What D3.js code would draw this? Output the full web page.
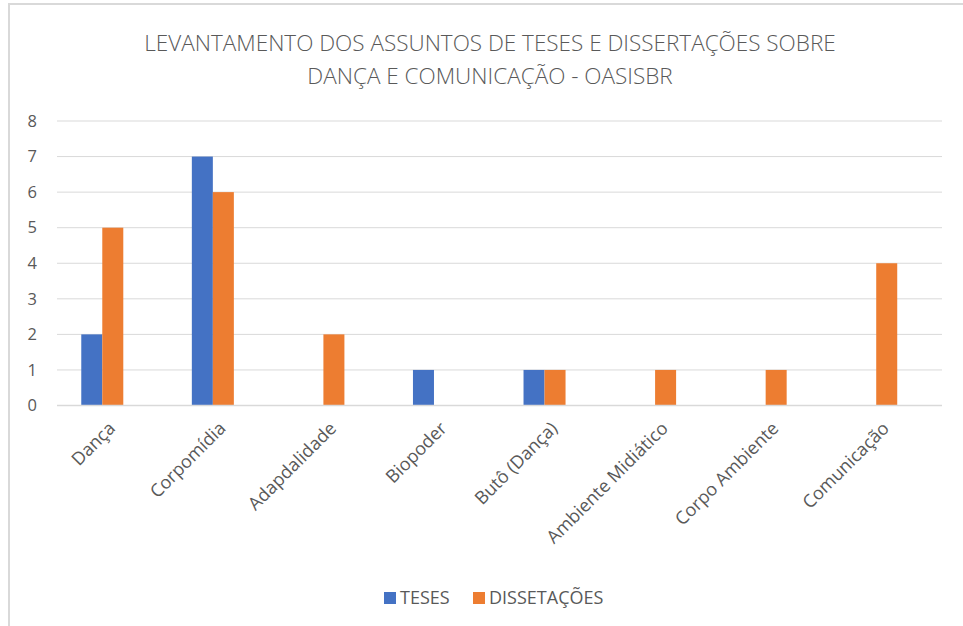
<!DOCTYPE html>
<html>
<head>
<meta charset="utf-8">
<script src="https://cdn.jsdelivr.net/npm/d3@7"></script>
<style>
  body { margin: 0; background: #fff; }
  text { font-family: "Open Sans", sans-serif; fill: #595959; }
</style>
</head>
<body>
<svg id="chart" width="963" height="626"></svg>
<script>
const categories = ['Dança', 'Corpomídia', 'Adapdalidade', 'Biopoder', 'Butô (Dança)', 'Ambiente Midiático', 'Corpo Ambiente', 'Comunicação'];
const teses = [2, 7, 0, 1, 1, 0, 0, 0];
const dissertacoes = [5, 6, 2, 0, 1, 1, 1, 4];
const seriesNames = ['TESES', 'DISSETAÇÕES'];
const yTicks = [0, 1, 2, 3, 4, 5, 6, 7, 8];
const titleLines = ['LEVANTAMENTO DOS ASSUNTOS DE TESES E DISSERTAÇÕES SOBRE', 'DANÇA E COMUNICAÇÃO - OASISBR'];

const colors = ['#4472c4', '#ed7d31'];
const svg = d3.select('#chart');

// frame (only top and left edges are visible in the crop)
svg.append('line').attr('x1', 8).attr('x2', 963).attr('y1', 4).attr('y2', 4)
  .attr('stroke', '#d9d9d9').attr('stroke-width', 2);
svg.append('line').attr('x1', 9).attr('x2', 9).attr('y1', 4).attr('y2', 626)
  .attr('stroke', '#d9d9d9').attr('stroke-width', 2);

const y = d3.scaleLinear().domain([0, 8]).range([405.5, 121]);
const x0 = d3.scaleBand().domain(categories).range([47, 931.5])
  .paddingInner(0.62).paddingOuter(0.31);
const x1 = d3.scaleBand().domain(seriesNames).range([0, x0.bandwidth()]);

// gridlines
svg.append('g')
  .selectAll('line')
  .data(yTicks)
  .enter()
  .append('line')
  .attr('x1', 57).attr('x2', 942)
  .attr('y1', d => y(d)).attr('y2', d => y(d))
  .attr('stroke', '#d9d9d9').attr('stroke-width', 1);

svg.append('g')
  .selectAll('text')
  .data(yTicks)
  .enter()
  .append('text')
  .attr('x', 37).attr('y', d => y(d))
  .attr('dy', '0.35em')
  .attr('text-anchor', 'end')
  .style('font-size', '16.5px')
  .text(d => d);

const rows = categories.map((c, i) => ({cat: c, values: [teses[i], dissertacoes[i]]}));

const groups = svg.append('g')
  .selectAll('g')
  .data(rows)
  .enter()
  .append('g')
  .attr('transform', d => `translate(${x0(d.cat)},0)`);

groups.selectAll('rect')
  .data(d => d.values.map((v, j) => ({key: seriesNames[j], v: v, j: j})))
  .enter()
  .filter(d => d.v > 0)
  .append('rect')
  .attr('x', d => x1(d.key))
  .attr('width', x1.bandwidth())
  .attr('y', d => y(d.v))
  .attr('height', d => y(0) - y(d.v))
  .attr('fill', d => colors[d.j]);

// axis line
svg.append('line').attr('x1', 57).attr('x2', 942)
  .attr('y1', y(0)).attr('y2', y(0))
  .attr('stroke', '#d9d9d9').attr('stroke-width', 1.5);

// category labels
svg.append('g')
  .selectAll('text')
  .data(categories)
  .enter()
  .append('text')
  .attr('text-anchor', 'end')
  .attr('transform', d => `translate(${x0(d) + x0.bandwidth() / 2 + 14},${y(0) + 24}) rotate(-45)`)
  .style('font-size', '18px')
  .text(d => d);

// title
svg.append('g')
  .selectAll('text')
  .data(titleLines)
  .enter()
  .append('text')
  .attr('x', 490)
  .attr('y', (d, i) => 51 + i * 33)
  .attr('text-anchor', 'middle')
  .style('font-size', '22.5px')
  .style('font-weight', 300)
  .text(d => d);

// legend
const legend = svg.append('g');
const legendX = [384, 473];
seriesNames.forEach((s, i) => {
  legend.append('rect')
    .attr('x', legendX[i]).attr('y', 592)
    .attr('width', 12).attr('height', 12)
    .attr('fill', colors[i]);
  legend.append('text')
    .attr('x', legendX[i] + 16).attr('y', 598)
    .attr('dy', '0.35em')
    .style('font-size', '18px')
    .text(s);
});
</script>
</body>
</html>
